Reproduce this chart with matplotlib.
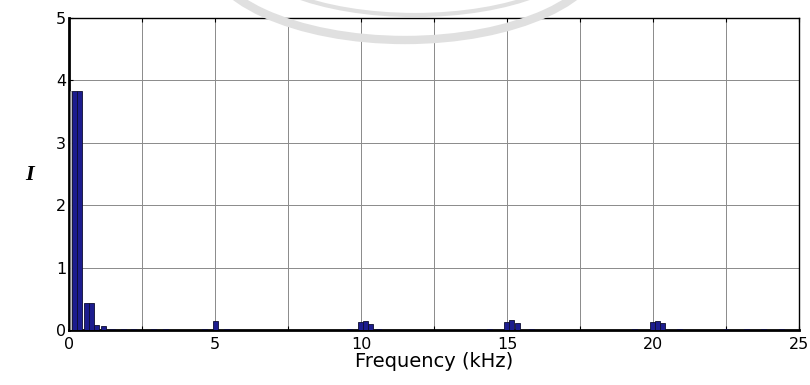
import matplotlib
matplotlib.use("Agg")
import matplotlib.pyplot as plt
from matplotlib.patches import Arc
from matplotlib.ticker import MultipleLocator

# Harmonic spectrum of the current (bin centres in kHz, amplitudes)
freq_khz = [0.20, 0.37, 0.60, 0.77, 0.95, 1.18,
            1.50, 1.85, 2.20, 2.90, 3.30,
            4.65, 5.03, 5.40,
            9.60, 9.98, 10.15, 10.32, 10.60,
            14.40, 14.98, 15.17, 15.36, 15.85,
            19.35, 19.98, 20.17, 20.34, 20.90,
            22.5, 23.2, 23.8, 24.4]
amplitude = [3.83, 3.83, 0.43, 0.43, 0.08, 0.07,
             0.02, 0.015, 0.015, 0.015, 0.015,
             0.015, 0.14, 0.015,
             0.015, 0.13, 0.145, 0.10, 0.015,
             0.015, 0.13, 0.16, 0.11, 0.015,
             0.015, 0.13, 0.15, 0.11, 0.015,
             0.01, 0.01, 0.01, 0.01]

# thin low-frequency marker next to the fundamental
dc_khz = [0.08]
dc_amp = [3.83]

x_ticks = [0, 5, 10, 15, 20, 25]
y_ticks = [0, 1, 2, 3, 4, 5]

W, H = 810, 385
fig = plt.figure(figsize=(W / 100, H / 100), dpi=100)
ax = fig.add_axes([69 / W, 1 - 330 / H, 730 / W, 312 / H])

# faint background arcs (centre x, centre y below top, semi-axes in pixels)
for cx, cy, a, b, lw in [(405, -52, 200, 92, 6), (415, -55, 175, 70, 3)]:
    fig.patches.append(Arc((cx / W, 1 - cy / H), 2 * a / W, 2 * b / H,
                           theta1=180, theta2=360, color="#e0e0e0", lw=lw,
                           transform=fig.transFigure, zorder=0))

ax.set_facecolor("none")
ax.bar(dc_khz, dc_amp, width=0.07, color="#bdbdbd", edgecolor="#808080",
       linewidth=0.5, zorder=3)
ax.bar(freq_khz, amplitude, width=0.17, color="#1c1c8e", edgecolor="#0d0d30",
       linewidth=0.6, zorder=3)

ax.set_xlim(0, 25)
ax.set_ylim(0, 5)
ax.set_xticks(x_ticks)
ax.set_yticks(y_ticks)
ax.xaxis.set_minor_locator(MultipleLocator(2.5))
ax.grid(True, which="major", color="#8a8a8a", linewidth=0.7)
ax.grid(True, which="minor", axis="x", color="#8a8a8a", linewidth=0.7)
ax.tick_params(which="both", direction="in", length=3, width=0.8,
               labelsize=11.5, pad=2, top=True, right=False)
ax.tick_params(axis="x", pad=5)

for side in ["left", "bottom"]:
    ax.spines[side].set_linewidth(2.0)
for side in ["top", "right"]:
    ax.spines[side].set_linewidth(1.0)

ax.set_xlabel("Frequency (kHz)", fontsize=14, labelpad=0)
fig.text(30 / W, 1 - 175 / H, "I", fontsize=16, fontstyle="italic",
         fontweight="bold", family="Liberation Serif", ha="center", va="center")

fig.savefig("out.png", dpi=100)
